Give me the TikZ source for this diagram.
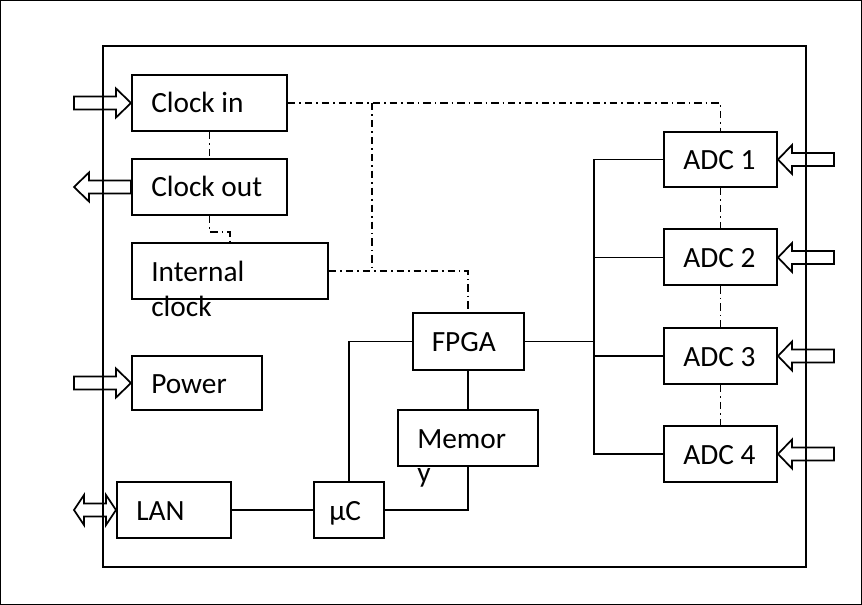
\documentclass[tikz,border=0pt]{standalone}
\usepackage{fontspec}
\setmainfont{Carlito}
\usetikzlibrary{calc}
\begin{document}
\begin{tikzpicture}[x=0.75pt,y=-0.75pt,
  box/.style={draw,line width=1.5pt,minimum width=#1,inner sep=0pt},
  lbl/.style={inner sep=0pt,anchor=base west,font=\fontsize{22}{26}\selectfont},
  conn/.style={line width=1.3pt},
  dd/.style={line width=1.3pt,dash pattern=on 5.5pt off 3pt on 1.2pt off 3pt},
  barrow/.style={line width=1.3pt,line join=miter}]
\useasboundingbox (0,0) rectangle (862,605);
\draw[line width=0.8pt] (0.5,0.5) rectangle (861.5,604.5);
\draw[line width=1.5pt] (103,46) rectangle (806,567);
% boxes
\node[box=155*0.75pt,minimum height=56*0.75pt] (clkin) at (209.5,103) {};
\node[box=155*0.75pt,minimum height=56*0.75pt] (clkout) at (209.5,187) {};
\node[box=196*0.75pt,minimum height=56*0.75pt] (intclk) at (230,271) {};
\node[box=130*0.75pt,minimum height=54*0.75pt] (power) at (197,383) {};
\node[box=114*0.75pt,minimum height=56*0.75pt] (lan) at (174,510) {};
\node[box=70*0.75pt,minimum height=56*0.75pt] (uc) at (349,510) {};
\node[box=140*0.75pt,minimum height=56*0.75pt] (mem) at (468,438) {};
\node[box=111*0.75pt,minimum height=57*0.75pt] (fpga) at (468,341.5) {};
\node[box=113*0.75pt,minimum height=55*0.75pt] (adc1) at (720.5,159.5) {};
\node[box=113*0.75pt,minimum height=56*0.75pt] (adc2) at (720.5,257.5) {};
\node[box=113*0.75pt,minimum height=56*0.75pt] (adc3) at (720.5,356) {};
\node[box=113*0.75pt,minimum height=56*0.75pt] (adc4) at (720.5,454) {};
% labels
\node[lbl] (tclkin) at ($(clkin.west)+(20,10)$) {Clock in};
\node[lbl] (tclkout) at ($(clkout.west)+(20,10)$) {Clock out};
\node[lbl] (tint1) at ($(intclk.west)+(20,11)$) {Internal};
\node[lbl] (tint2) at ($(intclk.west)+(20,45)$) {clock};
\node[lbl] (tpow) at ($(power.west)+(20,10)$) {Power};
\node[lbl] (tlan) at ($(lan.west)+(20,10)$) {LAN};
\node[lbl] (tuc) at ($(uc.west)+(16,10)$) {μC};
\node[lbl] (tmem1) at ($(mem.west)+(20,10)$) {Memor};
\node[lbl] (tmem2) at ($(mem.west)+(20,44)$) {y};
\node[lbl] (tfpga) at ($(fpga.west)+(20,10)$) {FPGA};
\node[lbl] (tadc1) at ($(adc1.west)+(20,10)$) {ADC 1};
\node[lbl] (tadc2) at ($(adc2.west)+(20,10)$) {ADC 2};
\node[lbl] (tadc3) at ($(adc3.west)+(20,10)$) {ADC 3};
\node[lbl] (tadc4) at ($(adc4.west)+(20,10)$) {ADC 4};
% solid connectors
\coordinate (bus) at (594,341.5);
\draw[conn] (lan.east) -- (uc.west);
\draw[conn] (uc.east) -| (mem.south);
\draw[conn] (fpga.south) -- (mem.north);
\draw[conn] (uc.north) |- (fpga.west);
\draw[conn] (fpga.east) -- (bus);
\draw[conn] (adc1.west) -| (adc4.west -| bus) -- (adc4.west);
\draw[conn] (adc2.west) -- (adc2.west -| bus);
\draw[conn] (adc3.west) -- (adc3.west -| bus);
% dash-dot connectors
\coordinate (k1) at (209.5,232);
\coordinate (j1) at (372,103);
\draw[dd] (clkin.south) -- (clkout.north);
\draw[dd] (clkout.south) -- (k1) -| (intclk.north);
\draw[dd] (clkin.east) -| (adc1.north);
\draw[dd] (j1) -- (j1 |- intclk.east);
\draw[dd] (intclk.east) -| (fpga.north);
\draw[dd] (adc1.south) -- (adc2.north);
\draw[dd] (adc2.south) -- (adc3.north);
\draw[dd] (adc3.south) -- (adc4.north);
% block arrows (inputs)
\foreach \n in {clkin,power}{
  \draw[barrow] (\n.west) -- ++(-15,-14.5) -- ++(0,8) -- ++(-42,0) -- ++(0,13) -- ++(42,0) -- ++(0,8) -- cycle;
}
\draw[barrow] (clkout.west) -- ++(0,-6.5) -- ++(-42,0) -- ++(0,-8) -- ++(-15,14.5) -- ++(15,14.5) -- ++(0,-8) -- ++(42,0) -- cycle;
\foreach \n in {adc1,adc2,adc3,adc4}{
  \draw[barrow] (\n.east) -- ++(14,-14.5) -- ++(0,8) -- ++(42,0) -- ++(0,13) -- ++(-42,0) -- ++(0,8) -- cycle;
}
\draw[barrow] (lan.west) -- ++(-10,-15) -- ++(0,8.5) -- ++(-22,0) -- ++(0,-8.5) -- ++(-10,15) -- ++(10,15) -- ++(0,-8.5) -- ++(22,0) -- ++(0,8.5) -- cycle;
\end{tikzpicture}
\end{document}
